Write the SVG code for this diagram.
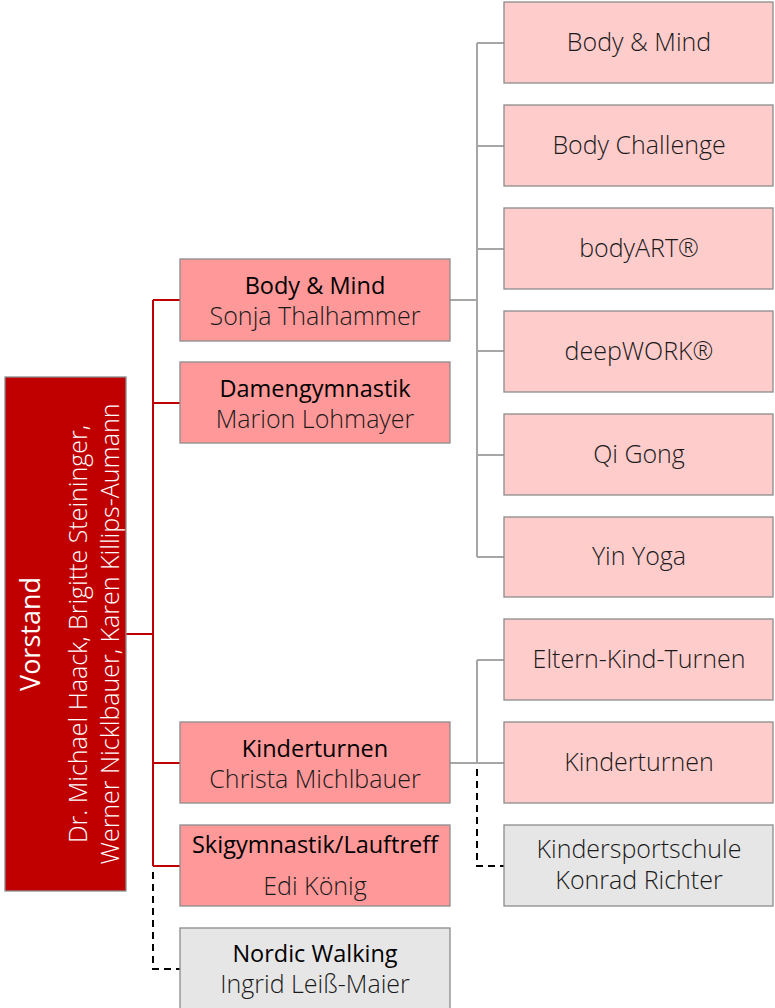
<svg xmlns="http://www.w3.org/2000/svg" width="775" height="1008" viewBox="0 0 775 1008">
<style>
.box{stroke:#8c8c8c;stroke-width:1.3}
.l2{fill:#ff9999}
.l3{fill:#ffcccc}
.gr{fill:#e6e6e6}
.t{font-family:"Open Sans","Liberation Sans",sans-serif;text-anchor:middle;fill:#000;font-size:23.5px}
.n{font-family:"Open Sans","Liberation Sans",sans-serif;text-anchor:middle;fill:#1a1a1a;font-size:25px;font-weight:300}
.v{font-family:"Open Sans","Liberation Sans",sans-serif;text-anchor:middle;fill:#fff}
.red{stroke:#c00000;stroke-width:2;fill:none}
.gry{stroke:#a6a6a6;stroke-width:2;fill:none}
.dash{stroke:#000;stroke-width:2;fill:none;stroke-dasharray:7,5}
</style>
<g id="connectors">
<path class="red" d="M126 634H153M153 300V866M153 300H180M153 403H180M153 763H180M153 866H180"/>
<path class="dash" d="M153 872V969H180"/>
<path class="gry" d="M450 300H477M477 43V557M477 43H504M477 146H504M477 249H504M477 351H504M477 455H504M477 557H504"/>
<path class="gry" d="M450 763H504M477 660V763M477 660H504"/>
<path class="dash" d="M477 769V866H504"/>
</g>
<g id="vorstand">
<rect x="5" y="377" width="121" height="514" fill="#c00000" stroke="#8c8c8c" stroke-width="1.3"/>
<g transform="translate(0 634) rotate(-90)">
<text class="v" x="0" y="40" font-size="27">Vorstand</text>
<text class="v" x="0" y="87" font-size="25" font-weight="300">Dr. Michael Haack, Brigitte Steininger,</text>
<text class="v" x="0" y="119" font-size="25" font-weight="300">Werner Nicklbauer, Karen Killips-Aumann</text>
</g>
</g>
<g id="bodymind"><rect class="box l2" x="180" y="259" width="270" height="82"/><text class="t" x="315" y="294">Body &amp; Mind</text><text class="n" x="315" y="325">Sonja Thalhammer</text></g>
<g id="damen"><rect class="box l2" x="180" y="362" width="270" height="81"/><text class="t" x="315" y="397">Damengymnastik</text><text class="n" x="315" y="428">Marion Lohmayer</text></g>
<g id="kinder"><rect class="box l2" x="180" y="722" width="270" height="81"/><text class="t" x="315" y="757">Kinderturnen</text><text class="n" x="315" y="788">Christa Michlbauer</text></g>
<g id="ski"><rect class="box l2" x="180" y="825" width="270" height="81"/><text class="t" x="315" y="853">Skigymnastik/Lauftreff</text><text class="n" x="315" y="895">Edi König</text></g>
<g id="nordic"><rect class="box gr" x="180" y="928" width="270" height="82"/><text class="t" x="315" y="962">Nordic Walking</text><text class="n" x="315" y="993">Ingrid Leiß-Maier</text></g>
<g id="s1"><rect class="box l3" x="504" y="2" width="269" height="81"/><text class="n" x="639" y="51">Body &amp; Mind</text></g>
<g id="s2"><rect class="box l3" x="504" y="105" width="269" height="81"/><text class="n" x="639" y="154">Body Challenge</text></g>
<g id="s3"><rect class="box l3" x="504" y="208" width="269" height="81"/><text class="n" x="639" y="257">bodyART®</text></g>
<g id="s4"><rect class="box l3" x="504" y="311" width="269" height="81"/><text class="n" x="639" y="360">deepWORK®</text></g>
<g id="s5"><rect class="box l3" x="504" y="414" width="269" height="81"/><text class="n" x="639" y="463">Qi Gong</text></g>
<g id="s6"><rect class="box l3" x="504" y="517" width="269" height="80"/><text class="n" x="639" y="565">Yin Yoga</text></g>
<g id="s7"><rect class="box l3" x="504" y="619" width="269" height="81"/><text class="n" x="639" y="668">Eltern-Kind-Turnen</text></g>
<g id="s8"><rect class="box l3" x="504" y="722" width="269" height="81"/><text class="n" x="639" y="771">Kinderturnen</text></g>
<g id="s9"><rect class="box gr" x="504" y="825" width="269" height="81"/><text class="n" x="639" y="858">Kindersportschule</text><text class="n" x="639" y="889">Konrad Richter</text></g>
</svg>
